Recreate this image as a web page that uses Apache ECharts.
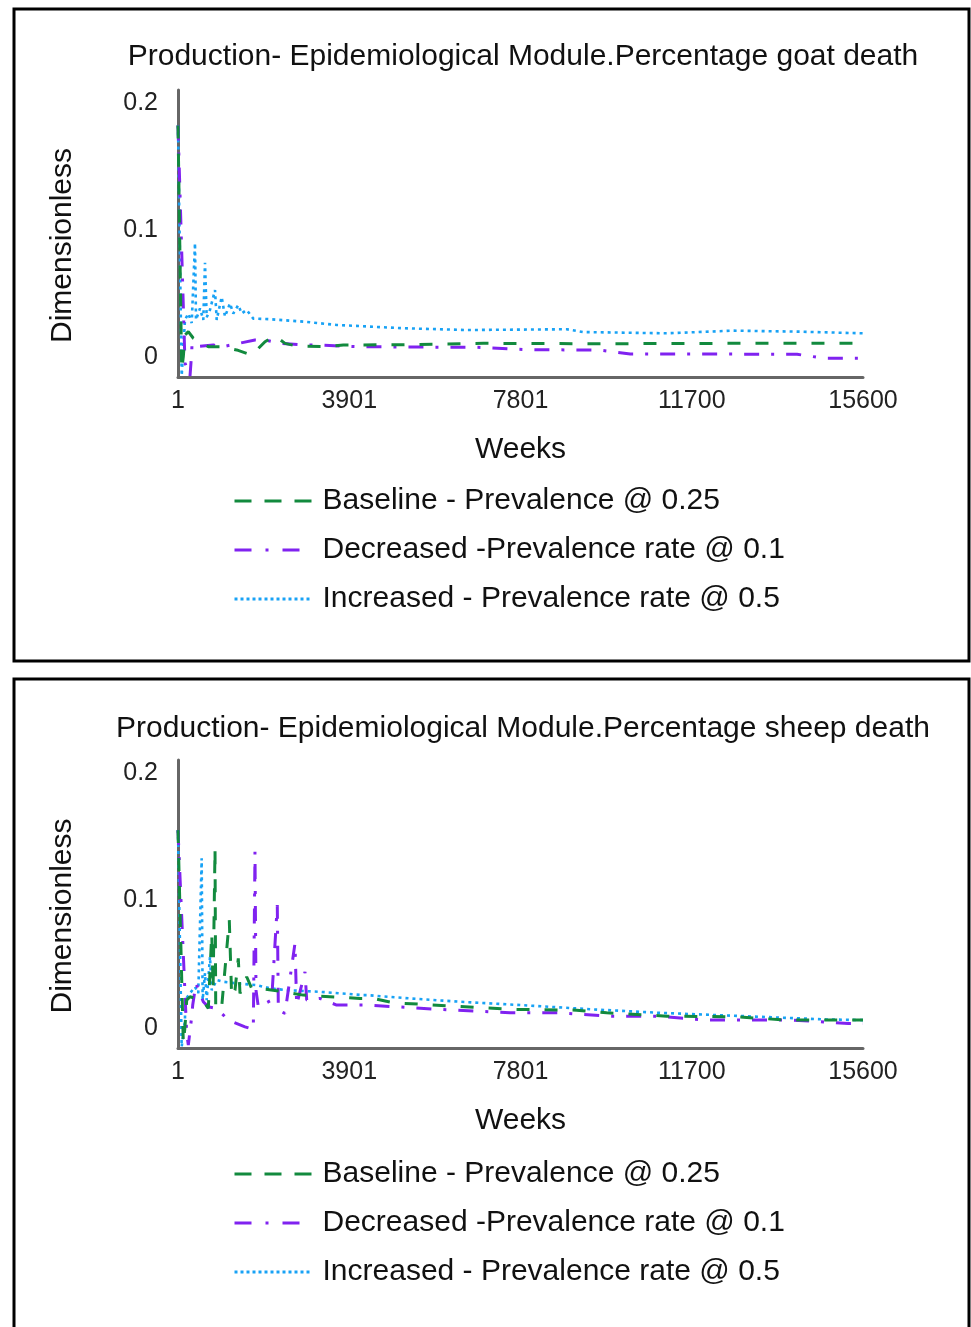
<!DOCTYPE html>
<html>
<head>
<meta charset="utf-8">
<script src="https://cdn.jsdelivr.net/npm/echarts@6/dist/echarts.min.js"></script>
<style>
  html, body { margin: 0; padding: 0; background: #fff; }
  #chart { width: 971px; height: 1327px; }
</style>
</head>
<body>
<div id="chart"></div>
<script>
// ---------- data ----------
const chartTitles = [
  'Production- Epidemiological Module.Percentage goat death',
  'Production- Epidemiological Module.Percentage sheep death'
];
const seriesNames = [
  'Baseline - Prevalence @ 0.25',
  'Decreased -Prevalence rate @ 0.1',
  'Increased - Prevalence rate @ 0.5'
];
const weekTicks = [1, 3901, 7801, 11700, 15600];
const valueTicks = [0, 0.1, 0.2];
const xAxisTitle = 'Weeks';
const yAxisTitle = 'Dimensionless';

// goat: [week, value]
const goatBaseline = [[1,0.182],[85,-0.0105],[122,0],[160,0.017],[236,0.0197],[350,0.0145],[691,0.0079],[957,0.0079],[1337,0.0053],[1679,0.0013],[1982,0.0118],[2210,0.0163],[2437,0.0105],[2703,0.0084],[3310,0.0079],[3765,0.0092],[5131,0.0094],[6953,0.0105],[9610,0.0102],[12645,0.0105],[15600,0.0105]];
const goatDecreased = [[1,0.182],[160,-0.005],[274,-0.0155],[313,0.003],[320,0.0105],[427,0.0079],[805,0.0092],[957,0.0074],[1754,0.0131],[2057,0.0126],[2324,0.0105],[2854,0.0092],[3158,0.0092],[4068,0.0079],[5131,0.0076],[6800,0.0074],[8000,0.0055],[9600,0.0052],[10300,0.0022],[14100,0.0019],[14700,-0.0012],[15600,-0.0013]];
const goatIncreased = [[1,0.182],[85,-0.015],[160,0.029],[236,0.034],[313,0.0265],[388,0.0895],[411,0.029],[502,0.038],[577,0.029],[616,0.074],[654,0.031],[730,0.037],[844,0.0525],[882,0.029],[996,0.047],[1071,0.0315],[1185,0.042],[1260,0.034],[1374,0.0407],[1451,0.034],[1565,0.0368],[1716,0.030],[2096,0.0295],[2854,0.0276],[3614,0.025],[5131,0.0224],[6575,0.021],[8852,0.0216],[9223,0.0194],[11129,0.0184],[12639,0.0205],[14164,0.0197],[15600,0.0184]];

// sheep: [week, value]
const sheepBaseline = [[1,0.155],[122,-0.0124],[160,0.0006],[199,0.0216],[274,0.0242],[577,0.021],[691,0.015],[770,0.074],[800,0.03],[844,0.1407],[860,0.015],[919,0.0137],[996,0.0163],[1169,0.0844],[1223,0.0242],[1299,0.0294],[1374,0.0543],[1413,0.0268],[1565,0.0399],[1679,0.0308],[1830,0.0308],[2249,0.0289],[2854,0.0255],[4145,0.0229],[4448,0.0229],[4904,0.0195],[6270,0.0169],[7636,0.0143],[9079,0.0137],[9762,0.0116],[11128,0.009],[12722,0.0085],[13860,0.0059],[15378,0.0059],[15600,0.0059]];
const sheepDecreased = [[1,0.155],[199,-0.0046],[236,-0.0137],[313,0.0085],[336,0.0177],[411,0.0347],[577,0.0203],[691,0.0163],[882,0.0151],[1147,0.0059],[1527,0.0006],[1716,-0.0014],[1754,0.138],[1777,0.0294],[1830,0.0163],[2134,0.0216],[2262,0.0962],[2286,0.0137],[2437,0.0111],[2665,0.0661],[2703,0.0177],[2893,0.0438],[2932,0.0216],[3234,0.0229],[3614,0.0177],[4298,0.0177],[5967,0.0143],[7561,0.0116],[8699,0.0116],[9800,0.009],[10901,0.009],[12039,0.0059],[14011,0.0059],[15264,0.0033],[15600,0.0033]];
const sheepIncreased = [[1,0.155],[85,-0.015],[160,0.006],[165,0.0216],[274,0.027],[388,0.032],[463,0.027],[540,0.1328],[562,0.0216],[616,0.0428],[654,0.0216],[730,0.0556],[768,0.0294],[882,0.0373],[1033,0.036],[1337,0.0347],[1793,0.0334],[2096,0.0308],[2476,0.0294],[3234,0.0281],[4220,0.0255],[4298,0.0255],[5284,0.0229],[6423,0.0203],[7789,0.0177],[9458,0.0143],[10976,0.0116],[12873,0.009],[14771,0.0064],[15600,0.0059]];

// ---------- styles ----------
const FONT = "'Liberation Sans', Arial, sans-serif";
const colors = ['#128a3e', '#8022f0', '#18a2f5'];
const dashes = [[13, 15], [15, 12, 3, 12], [3, 4]];
const legendDashes = [[17, 13], [17, 14, 3, 14], [3, 3]];
const widths = [3, 3, 2.6];

const grids = [
  { left: 178, top: 90, width: 685, height: 287 },
  { left: 178, top: 760, width: 685, height: 288 }
];

function xAxisFor(i) {
  return {
    type: 'value', gridIndex: i, min: 1, max: 15600,
    name: xAxisTitle, nameLocation: 'middle', nameGap: 58,
    nameTextStyle: { fontFamily: FONT, fontSize: 30, color: '#111' },
    axisLine: { show: true, onZero: false, lineStyle: { color: '#666', width: 3 } },
    axisTick: { show: false },
    splitLine: { show: false },
    axisLabel: { customValues: weekTicks, formatter: v => String(v), fontFamily: FONT, fontSize: 25, color: '#222', margin: 12 }
  };
}
function yAxisFor(i) {
  return {
    type: 'value', gridIndex: i, min: -0.016, max: 0.21,
    name: yAxisTitle, nameLocation: 'middle', nameGap: 100, nameRotate: 90,
    nameTextStyle: { fontFamily: FONT, fontSize: 30, color: '#111', padding: [0, 24, 0, 0] },
    axisLine: { show: true, lineStyle: { color: '#666', width: 3 } },
    axisTick: { show: false },
    splitLine: { show: false },
    axisLabel: { customValues: valueTicks, formatter: v => String(v), fontFamily: FONT, fontSize: 25, color: '#222', margin: 20 }
  };
}

const allData = [
  [goatBaseline, goatDecreased, goatIncreased],
  [sheepBaseline, sheepDecreased, sheepIncreased]
];
const series = [];
allData.forEach((group, gi) => {
  group.forEach((d, si) => {
    series.push({
      type: 'line', name: seriesNames[si], xAxisIndex: gi, yAxisIndex: gi,
      data: d, symbol: 'none', animation: false,
      lineStyle: { color: colors[si], width: widths[si], type: dashes[si] },
      itemStyle: { color: colors[si] },
      z: 3 - si
    });
  });
});

function legendFor(top) {
  return {
    orient: 'vertical', left: 233, top: top, padding: 0,
    itemWidth: 78, itemHeight: 14, itemGap: 19,
    itemStyle: { opacity: 0 },
    data: seriesNames.map((n, i) => ({
      name: n,
      lineStyle: { color: colors[i], width: 3, type: legendDashes[i] }
    })),
    textStyle: { fontFamily: FONT, fontSize: 30, color: '#111', padding: [0, 0, 0, 5] }
  };
}

const option = {
  backgroundColor: '#fff',
  animation: false,
  title: [
    { text: chartTitles[0], left: 518, top: 37, textAlign: 'center', textStyle: { fontFamily: FONT, fontSize: 30, fontWeight: 'normal', color: '#111' } },
    { text: chartTitles[1], left: 518, top: 709, textAlign: 'center', textStyle: { fontFamily: FONT, fontSize: 30, fontWeight: 'normal', color: '#111' } }
  ],
  legend: [legendFor(486), legendFor(1159)],
  grid: grids,
  xAxis: [xAxisFor(0), xAxisFor(1)],
  yAxis: [yAxisFor(0), yAxisFor(1)],
  series: series,
  graphic: [
    { type: 'rect', shape: { x: 14, y: 9, width: 955, height: 652 }, style: { fill: 'none', stroke: '#000', lineWidth: 3 }, silent: true },
    { type: 'rect', shape: { x: 14, y: 679, width: 955, height: 700 }, style: { fill: 'none', stroke: '#000', lineWidth: 3 }, silent: true }
  ]
};

const chart = echarts.init(document.getElementById('chart'), null, { renderer: 'canvas' });
chart.setOption(option);
</script>
</body>
</html>
